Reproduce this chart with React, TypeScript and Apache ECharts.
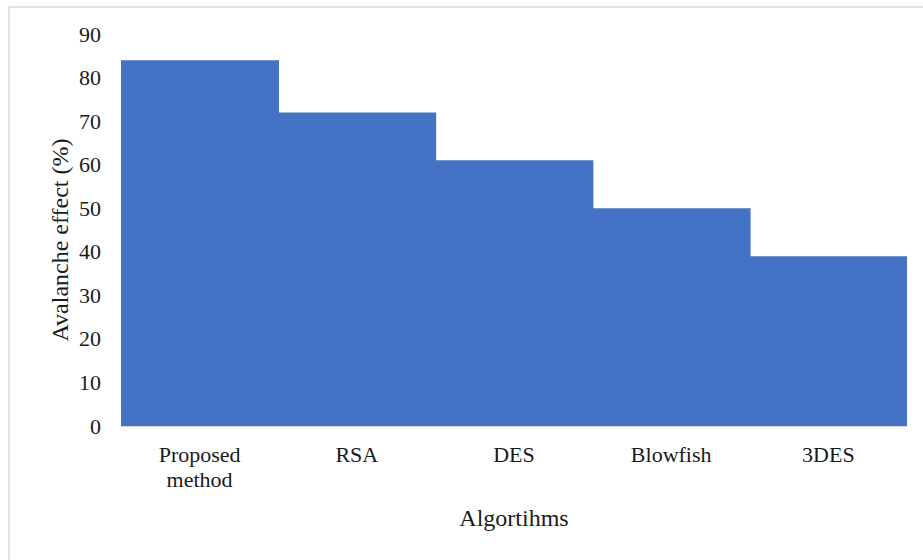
import React, { useEffect, useRef } from "react";
import * as echarts from "echarts";

const categories = ["Proposed\nmethod", "RSA", "DES", "Blowfish", "3DES"];
const avalancheValues = [84, 72, 61, 50, 39];
const yAxisName = "Avalanche effect (%)";
const xAxisName = "Algortihms";

const FONT = "'Liberation Serif', 'Times New Roman', serif";

export default function App() {
  const ref = useRef<HTMLDivElement>(null);
  useEffect(() => {
    if (!ref.current) return;
    const chart = echarts.init(ref.current, undefined, { renderer: "svg" });
    chart.setOption({
      animation: false,
      backgroundColor: "#ffffff",
      grid: { left: 121, right: 16, top: 34, bottom: 134 },
      xAxis: {
        type: "category",
        data: categories,
        axisLine: { show: true, lineStyle: { color: "#d9d9d9", width: 1 } },
        axisTick: { show: false },
        splitLine: { show: false },
        axisLabel: {
          fontFamily: FONT,
          fontSize: 22,
          color: "#1a1a1a",
          margin: 16,
          lineHeight: 25,
        },
      },
      yAxis: {
        type: "value",
        min: 0,
        max: 90,
        interval: 10,
        splitLine: { show: false },
        axisLine: { show: false },
        axisTick: { show: false },
        axisLabel: {
          fontFamily: FONT,
          fontSize: 22,
          color: "#1a1a1a",
          margin: 20,
        },
      },
      series: [
        {
          type: "bar",
          data: avalancheValues,
          barWidth: "101%",
          itemStyle: { color: "#4472c4" },
        },
      ],
      graphic: [
        {
          type: "line",
          shape: { x1: 9, y1: 7, x2: 923, y2: 7 },
          style: { stroke: "#d9d9d9", lineWidth: 1.5 },
        },
        {
          type: "line",
          shape: { x1: 9, y1: 7, x2: 9, y2: 560 },
          style: { stroke: "#d9d9d9", lineWidth: 1.5 },
        },
        {
          type: "text",
          x: 60,
          y: 240,
          rotation: Math.PI / 2,
          style: {
            text: yAxisName,
            fontFamily: FONT,
            fontSize: 24,
            fill: "#1a1a1a",
            align: "center",
            verticalAlign: "middle",
          },
        },
        {
          type: "text",
          x: 514,
          y: 518,
          style: {
            text: xAxisName,
            fontFamily: FONT,
            fontSize: 24,
            fill: "#1a1a1a",
            align: "center",
            verticalAlign: "middle",
          },
        },
      ],
    });
    return () => chart.dispose();
  }, []);
  return (
    <div
      ref={ref}
      style={{ position: "fixed", left: 0, top: 0, width: 923, height: 560 }}
    />
  );
}
